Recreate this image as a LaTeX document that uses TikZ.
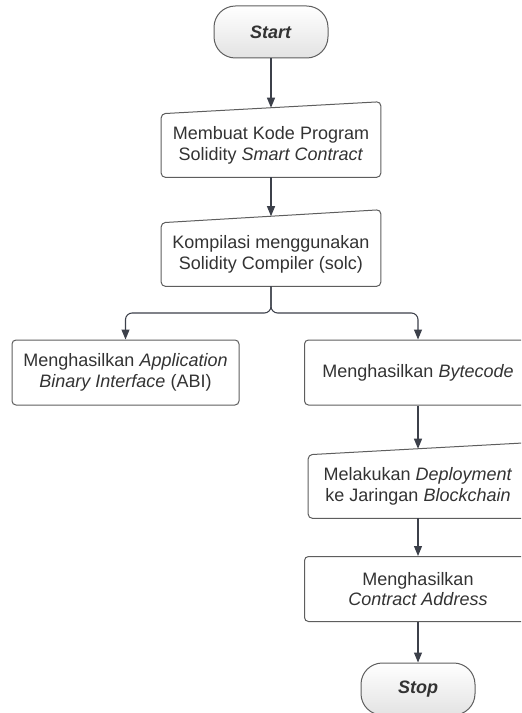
\documentclass[tikz,border=0pt]{standalone}
\usepackage{fontspec}
\setmainfont{Liberation Sans}
\usetikzlibrary{arrows.meta,calc}
\definecolor{edge}{HTML}{5E5E5E}
\definecolor{ink}{HTML}{333333}
\definecolor{wire}{HTML}{3C404A}
\tikzset{
  txt/.style={align=center, text=ink, font=\fontsize{13.5}{15.4}\selectfont, inner sep=0pt},
  term/.style={txt, draw=edge, line width=0.75pt, rounded corners=16pt,
    top color=white, bottom color=gray!22,
    minimum width=85.5pt, minimum height=39pt},
  proc/.style={txt, draw=edge, line width=0.75pt, fill=white, rounded corners=3pt,
    minimum width=170.25pt, minimum height=48.75pt},
  manual/.style={txt, minimum width=164.25pt, minimum height=47.25pt},
  slant/.style={draw=edge, line width=0.75pt, rounded corners=3pt},
  wire/.style={draw=wire, line width=0.8pt, -{Triangle[length=7.5pt,width=6pt]}},
  bare/.style={draw=wire, line width=0.8pt},
}
\begin{document}
\begin{tikzpicture}[x=0.75pt,y=-0.75pt]
  \clip (0,0) rectangle (521,713);
  \fill[white] (0,0) rectangle (521,713);

  % terminals
  \node[term] (start) at (271,32) {\textbf{\textit{Start}}};
  \node[term] (stop)  at (418,689) {\textbf{\textit{Stop}}};

  % manual-input steps (sloped top edge)
  \node[manual] (code) at (271,145.5) {Membuat Kode Program\\Solidity \textit{Smart Contract}};
  \draw[slant] (code.south west) -- (code.north west) -- ([yshift=9pt]code.north east)
    -- (code.south east) -- cycle;
  \node[manual] (comp) at (271,254.5) {Kompilasi menggunakan\\Solidity Compiler (solc)};
  \draw[slant] (comp.south west) -- (comp.north west) -- ([yshift=9.75pt]comp.north east)
    -- (comp.south east) -- cycle;
  \node[manual] (deploy) at (418,486.5) {Melakukan \textit{Deployment}\\ke Jaringan \textit{Blockchain}};
  \draw[slant] (deploy.south west) -- (deploy.north west) -- ([yshift=9pt]deploy.north east)
    -- (deploy.south east) -- cycle;

  % process steps
  \node[proc] (abi)  at (125.5,372.5) {Menghasilkan \textit{Application}\\\textit{Binary Interface} (ABI)};
  \node[proc] (byte) at (418,372.5) {Menghasilkan \textit{Bytecode}};
  \node[proc] (addr) at (418,589) {Menghasilkan\\\textit{Contract Address}};

  % connectors
  \draw[wire] (start.south) -- ([yshift=4.5pt]code.north);
  \draw[wire] (code.south) -- ([yshift=4.9pt]comp.north);
  \coordinate (split) at (271,313);
  \draw[wire, rounded corners=5pt] (comp.south) -- (split) -| (abi.north);
  \draw[wire, rounded corners=5pt] (comp.south) -- (split) -| (byte.north);
  \draw[wire] (byte.south) -- ([yshift=4.5pt]deploy.north);
  \draw[wire] (deploy.south) -- (addr.north);
  \draw[wire] (addr.south) -- (stop.north);
\end{tikzpicture}
\end{document}
